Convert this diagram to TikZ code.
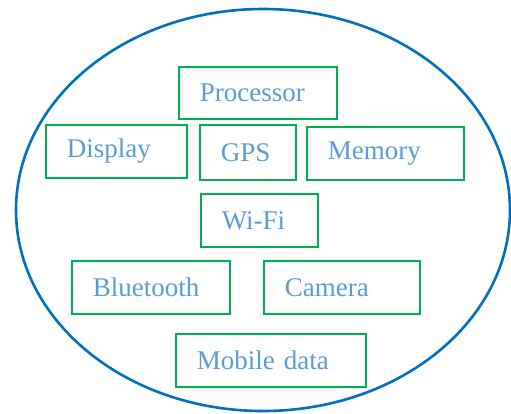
\documentclass[tikz,border=0pt]{standalone}
\usepackage{fontspec}
\setmainfont{Liberation Serif}
\usepackage{tikz}
\definecolor{ringblue}{RGB}{0,112,192}
\definecolor{boxgreen}{RGB}{0,176,80}
\definecolor{labelblue}{RGB}{91,155,213}

\begin{document}
\begin{tikzpicture}[x=1pt, y=-1pt,
  part/.style={draw=boxgreen, line width=1.6pt, anchor=north west,
    inner xsep=21pt, inner ysep=0pt, align=left, text=labelblue,
    font=\fontsize{27}{32}\selectfont}]
\useasboundingbox (0,0) rectangle (511,413);

% the phone
\draw[ringblue, line width=2.6pt] (263,210) ellipse [x radius=247pt, y radius=201pt];

% its parts
\node[part, text width=116pt, minimum height=52pt] (proc) at (178,66) {Processor};
\node[part, text width=99pt, minimum height=53pt] (disp) at (45,124) {Display};
\node[part, text width=54pt, minimum height=55pt] (gps) at (199,124) {GPS};
\node[part, text width=115pt, minimum height=53pt] (mem) at (306,126) {Memory};
\node[part, text width=75pt, minimum height=53pt] (wifi) at (200,193) {Wi-Fi};
\node[part, text width=116pt, minimum height=53pt] (bt) at (71,260) {Bluetooth};
\node[part, text width=114pt, minimum height=53pt] (cam) at (263,260) {Camera};
\node[part, text width=148pt, minimum height=53pt] (mobile) at (175,333) {Mobile data};
\end{tikzpicture}
\end{document}
